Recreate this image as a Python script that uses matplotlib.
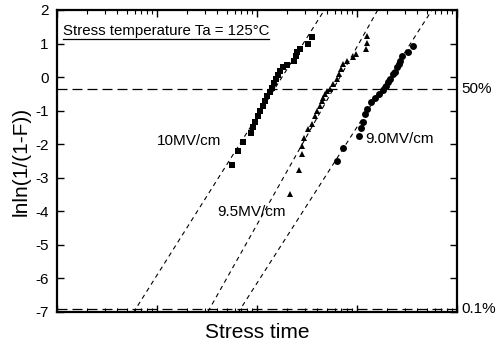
import numpy as np
import matplotlib
matplotlib.use("Agg")
import matplotlib.pyplot as plt
from matplotlib.ticker import LogLocator, NullFormatter, FixedLocator
from matplotlib.lines import Line2D

plt.rcParams['font.family'] = ['Liberation Sans', 'DejaVu Sans']
plt.rcParams['axes.unicode_minus'] = False

# failure data: log10(stress time) and lnln(1/(1-F)) for each field
logt_10 = [1.753, 1.807, 1.857, 1.940, 1.957, 1.980, 2.007, 2.030, 2.057, 2.080,
           2.103, 2.130, 2.153, 2.173, 2.190, 2.210, 2.230, 2.263, 2.297, 2.370,
           2.390, 2.403, 2.430, 2.513, 2.555]
weib_10 = [-2.62, -2.20, -1.93, -1.67, -1.50, -1.35, -1.16, -1.01, -0.86, -0.71,
           -0.56, -0.44, -0.31, -0.18, -0.06, 0.07, 0.19, 0.29, 0.36, 0.49,
           0.62, 0.74, 0.84, 1.00, 1.21]

logt_95 = [2.330, 2.423, 2.447, 2.447, 2.470, 2.513, 2.547, 2.580, 2.603, 2.630,
           2.647, 2.663, 2.680, 2.703, 2.730, 2.763, 2.797, 2.820, 2.837, 2.863,
           2.897, 2.963, 2.990, 3.090, 3.097, 3.097]
weib_95 = [-3.49, -2.77, -2.30, -2.05, -1.80, -1.55, -1.40, -1.16, -1.01, -0.86,
           -0.71, -0.61, -0.51, -0.41, -0.36, -0.21, -0.06, 0.09, 0.24, 0.39,
           0.49, 0.59, 0.69, 0.84, 1.01, 1.23]

logt_90 = [2.797, 2.863, 3.020, 3.040, 3.057, 3.080, 3.097, 3.140, 3.180, 3.223,
           3.263, 3.290, 3.313, 3.330, 3.357, 3.380, 3.403, 3.420, 3.430, 3.447,
           3.513, 3.563]
weib_90 = [-2.50, -2.10, -1.76, -1.52, -1.33, -1.10, -0.96, -0.74, -0.61, -0.51,
           -0.38, -0.26, -0.16, -0.06, 0.09, 0.16, 0.29, 0.39, 0.49, 0.64,
           0.76, 0.93]

# Weibull fits: shape beta and scale eta (time at lnln = 0)
fit_beta = [2.05, 2.30, 2.02]
fit_eta = [178.0, 676.0, 2090.0]

field_labels = ['10MV/cm', '9.5MV/cm', '9.0MV/cm']
label_pos = [(10.0, -1.91), (40.0, -4.02), (1200.0, -1.85)]

pct_labels = ['50%', '0.1%']
pct_F = [0.5, 0.001]

fig = plt.figure(figsize=(4.99, 3.47), dpi=100)
ax = fig.add_axes([0.1142, 0.1009, 0.8016, 0.8703])
ax.set_xscale('log')
ax.set_xlim(1, 1e4)
ax.set_ylim(-7, 2)

series = [(logt_10, weib_10, 's', 4.8), (logt_95, weib_95, '^', 5.0),
          (logt_90, weib_90, 'o', 5.0)]
for (lt, w, mk, ms) in series:
    ax.plot(10 ** np.array(lt), w, linestyle='none', marker=mk, ms=ms,
            color='black', markeredgewidth=0, zorder=3)

t = np.logspace(0, 4, 200)
for beta, eta in zip(fit_beta, fit_eta):
    ax.plot(t, beta * np.log(t / eta), color='black', lw=0.8,
            dashes=(4, 3.5), zorder=2)

for lab, F in zip(pct_labels, pct_F):
    yv = np.log(-np.log(1 - F))
    ax.axhline(yv, color='black', lw=0.9, dashes=(8, 4), zorder=2)
    ax.text(1.012, yv, lab, transform=ax.get_yaxis_transform(),
            ha='left', va='center', fontsize=11)

for lab, (x, y) in zip(field_labels, label_pos):
    ax.text(x, y, lab, ha='left', va='center', fontsize=11)

title = ax.text(0.014, 0.918, 'Stress temperature Ta = 125\u00b0C',
                transform=ax.transAxes, ha='left', va='baseline', fontsize=10.8)
fig.canvas.draw()
bb = title.get_window_extent().transformed(ax.transAxes.inverted())
ax.add_line(Line2D([bb.x0, bb.x1], [bb.y0 - 0.004, bb.y0 - 0.004],
                   transform=ax.transAxes, color='black', lw=0.9))

ax.yaxis.set_major_locator(FixedLocator(range(-7, 3)))
ax.xaxis.set_major_locator(LogLocator(base=10, numticks=10))
ax.xaxis.set_minor_locator(LogLocator(base=10, subs=np.arange(2, 10), numticks=10))
ax.xaxis.set_minor_formatter(NullFormatter())
ax.tick_params(axis='x', which='both', direction='in', top=True, bottom=True,
               labelbottom=False)
ax.tick_params(axis='x', which='major', length=5, width=1)
ax.tick_params(axis='x', which='minor', length=3, width=0.8)
ax.tick_params(axis='y', which='major', direction='in', left=True, right=True,
               length=5, width=1, labelsize=11, pad=6)
for s in ax.spines.values():
    s.set_linewidth(1.6)

ax.set_xlabel('Stress time', fontsize=15, labelpad=8)
ax.set_ylabel('lnln(1/(1-F))', fontsize=15, labelpad=3)

fig.savefig('out.png', dpi=100)
